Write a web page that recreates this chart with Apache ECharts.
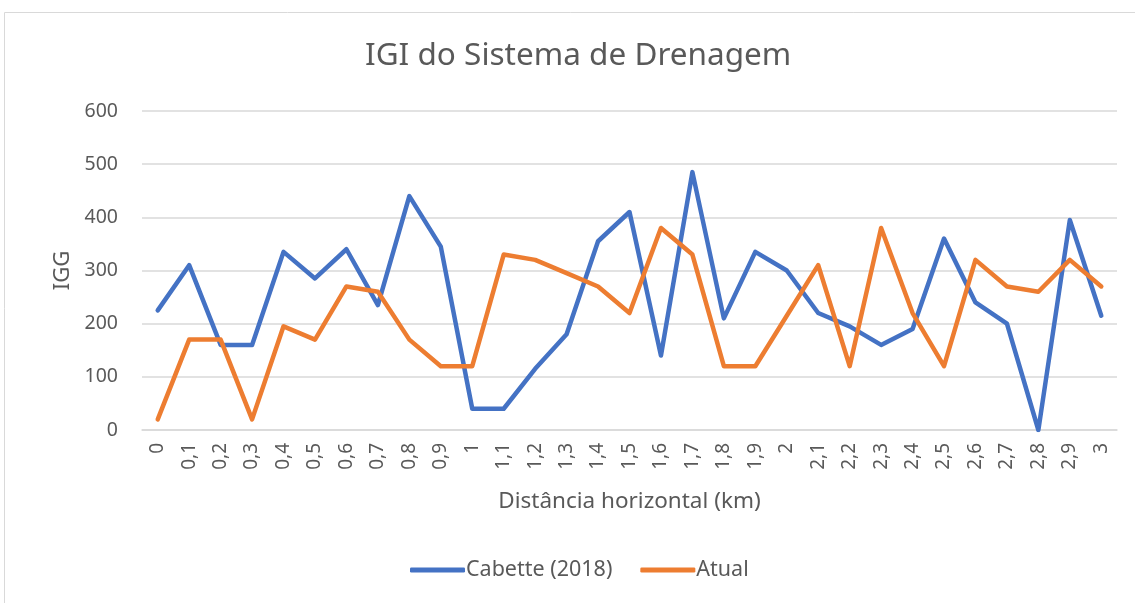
<!DOCTYPE html>
<html>
<head>
<meta charset="utf-8">
<script src="https://cdn.jsdelivr.net/npm/echarts@6/dist/echarts.min.js"></script>
<style>
  html, body { margin: 0; padding: 0; background: #fff; }
  #chart { width: 1135px; height: 603px; }
</style>
</head>
<body>
<div id="chart"></div>
<script>
const distances = ['0', '0,1', '0,2', '0,3', '0,4', '0,5', '0,6', '0,7', '0,8', '0,9', '1',
  '1,1', '1,2', '1,3', '1,4', '1,5', '1,6', '1,7', '1,8', '1,9', '2',
  '2,1', '2,2', '2,3', '2,4', '2,5', '2,6', '2,7', '2,8', '2,9', '3'];

const cabette = [225, 310, 160, 160, 335, 285, 340, 235, 440, 345, 40,
  40, 115, 180, 355, 410, 140, 485, 210, 335, 300,
  220, 195, 160, 190, 360, 240, 200, 0, 395, 215];

const atual = [20, 170, 170, 20, 195, 170, 270, 260, 170, 120, 120,
  330, 320, 295, 270, 220, 380, 330, 120, 120, 215,
  310, 120, 380, 220, 120, 320, 270, 260, 320, 270];

const font = 'Noto Sans';
const textColor = '#595959';

const chart = echarts.init(document.getElementById('chart'));
chart.setOption({
  animation: false,
  textStyle: { fontFamily: font },
  graphic: [{
    type: 'rect',
    silent: true,
    shape: { x: 4.5, y: 12.5, width: 1300, height: 700 },
    style: { fill: 'none', stroke: '#d9d9d9', lineWidth: 1 }
  }],
  title: {
    text: 'IGI do Sistema de Drenagem',
    left: 360,
    top: 35,
    textStyle: { fontFamily: font, fontSize: 31.5, fontWeight: 'normal', color: textColor }
  },
  legend: {
    bottom: 17,
    left: 405,
    itemWidth: 55,
    itemHeight: 5,
    itemGap: 28,
    icon: 'roundRect',
    textStyle: { fontFamily: font, fontSize: 21.5, color: textColor, padding: [0, 0, 0, -4] },
    data: ['Cabette (2018)', 'Atual']
  },
  grid: { left: 142, right: 18, top: 111, bottom: 173, containLabel: false },
  xAxis: {
    type: 'category',
    data: distances,
    name: 'Distância horizontal (km)',
    nameLocation: 'middle',
    nameGap: 60,
    nameTextStyle: { fontFamily: font, fontSize: 22.5, color: textColor },
    axisLine: { lineStyle: { color: '#d9d9d9', width: 1.5 } },
    axisTick: { show: false },
    axisLabel: {
      rotate: 90,
      interval: 0,
      margin: 13,
      fontFamily: font,
      fontSize: 19,
      color: textColor
    }
  },
  yAxis: {
    type: 'value',
    min: 0,
    max: 600,
    interval: 100,
    name: 'IGG',
    nameLocation: 'middle',
    nameGap: 68,
    nameTextStyle: { fontFamily: font, fontSize: 22, color: textColor },
    axisLabel: { margin: 24, fontFamily: font, fontSize: 19.5, color: textColor },
    splitLine: { lineStyle: { color: '#d9d9d9', width: 1.5 } }
  },
  series: [
    {
      name: 'Cabette (2018)',
      type: 'line',
      data: cabette,
      symbol: 'none',
      itemStyle: { color: '#4472c4' },
      lineStyle: { color: '#4472c4', width: 4.5, cap: 'round', join: 'round' }
    },
    {
      name: 'Atual',
      type: 'line',
      data: atual,
      symbol: 'none',
      itemStyle: { color: '#ed7d31' },
      lineStyle: { color: '#ed7d31', width: 4.5, cap: 'round', join: 'round' }
    }
  ]
});
</script>
</body>
</html>
